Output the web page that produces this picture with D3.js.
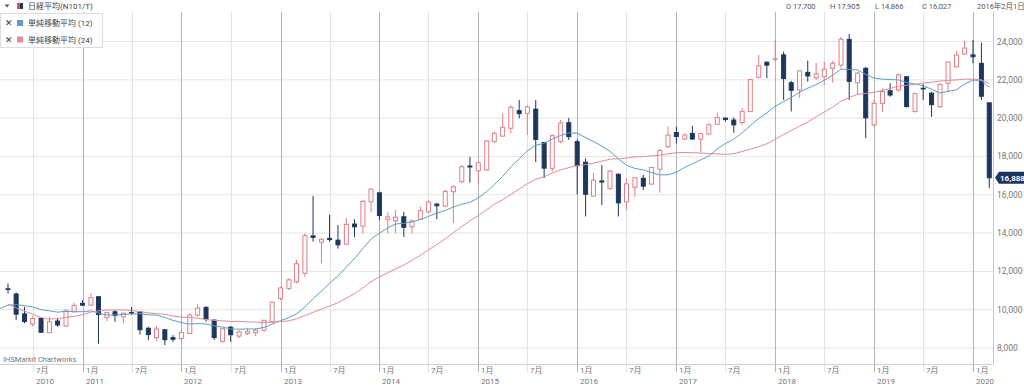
<!DOCTYPE html>
<html><head><meta charset="utf-8">
<script src="https://cdn.jsdelivr.net/npm/d3@7"></script>
<style>
body{margin:0;background:#fff;}
svg{display:block;font-family:Roboto,"Noto Sans CJK JP",sans-serif;}
</style>
</head><body>
<svg id="c" width="1024" height="386"></svg>
<script>
// ---------- DATA ----------
const months = [
 "2010-04","2010-05","2010-06","2010-07","2010-08","2010-09","2010-10","2010-11","2010-12",
 "2011-01","2011-02","2011-03","2011-04","2011-05","2011-06","2011-07","2011-08","2011-09","2011-10","2011-11","2011-12",
 "2012-01","2012-02","2012-03","2012-04","2012-05","2012-06","2012-07","2012-08","2012-09","2012-10","2012-11","2012-12",
 "2013-01","2013-02","2013-03","2013-04","2013-05","2013-06","2013-07","2013-08","2013-09","2013-10","2013-11","2013-12",
 "2014-01","2014-02","2014-03","2014-04","2014-05","2014-06","2014-07","2014-08","2014-09","2014-10","2014-11","2014-12",
 "2015-01","2015-02","2015-03","2015-04","2015-05","2015-06","2015-07","2015-08","2015-09","2015-10","2015-11","2015-12",
 "2016-01","2016-02","2016-03","2016-04","2016-05","2016-06","2016-07","2016-08","2016-09","2016-10","2016-11","2016-12",
 "2017-01","2017-02","2017-03","2017-04","2017-05","2017-06","2017-07","2017-08","2017-09","2017-10","2017-11","2017-12",
 "2018-01","2018-02","2018-03","2018-04","2018-05","2018-06","2018-07","2018-08","2018-09","2018-10","2018-11","2018-12",
 "2019-01","2019-02","2019-03","2019-04","2019-05","2019-06","2019-07","2019-08","2019-09","2019-10","2019-11","2019-12",
 "2020-01","2020-02","2020-03"];
const opens = [
 11090,10820,9780,9250,9545,8800,9405,9150,9890,
 10330,10240,10675,9600,9890,9630,9850,9890,9030,8550,8950,8540,
 8500,8760,9720,10120,9460,8350,9080,8620,8760,8800,8935,9370,
 10590,11110,11455,11900,13850,13520,13720,13630,13420,14470,14360,15630,
 16100,14720,14640,14850,14330,14720,15110,15510,15410,16160,16680,17500,
 17250,17290,18770,19060,19470,20390,20250,20470,18730,17380,18770,19760,
 18770,17700,15930,16720,16330,17070,15630,16390,16860,16560,17330,18510,
 19250,18910,19200,18910,19170,19680,20000,19900,19770,20340,22130,22920,
 23073,23300,21850,21470,22390,22110,22160,22600,22770,24110,21850,22600,
 19640,20770,21430,21470,22160,20340,21560,21300,20600,21820,22680,23350,
 23300,22860,20800];
const highs = [
 11370,10900,10150,9660,9600,9630,9560,10030,10360,
 10500,10880,10710,9890,9970,9840,10150,9890,9110,9150,8990,8670,
 8935,9810,10280,10180,9460,9025,9150,8935,9025,9025,9460,10410,
 11200,11640,12590,13980,15942,13711,14953,14420,14780,14720,15720,16330,
 16160,15080,15200,15110,14720,15380,15720,15580,16280,16510,17550,17980,
 17720,18860,19300,20250,20690,20950,20690,20946,18730,19150,19900,20012,
 18890,17905,17150,17550,17290,17120,16860,16910,17030,17460,18420,19560,
 19550,19200,19590,19200,19730,20280,20040,20040,20520,22030,23300,22950,
 24080,23470,21950,22500,23000,22880,22950,22990,24250,24390,22420,22680,
 20950,21560,21820,22340,22200,21330,21780,21380,21820,22950,23520,24040,
 24080,23940,20800];
const lows = [
 10850,9460,9290,9145,8796,8790,9110,9100,9860,
 10190,10200,8227,9400,9370,9290,9720,8700,8415,8340,8150,8320,
 8320,8730,9630,9380,8415,8270,8320,8500,8675,8620,8850,9290,
 10500,11030,11370,11720,13556,12415,13550,13188,13375,13780,13990,15080,
 14680,13995,13990,13800,13990,14680,15030,14720,15370,14529,16600,16630,
 16590,17240,18720,19030,19200,19990,19115,17714,16870,17200,18690,18860,
 16017,14866,15890,15460,16250,14864,15200,15900,16250,16510,16111,18420,
 18680,18860,18860,18224,19120,19640,19810,19240,19640,20340,22080,22080,
 22950,20950,20347,21060,21900,21990,21730,21850,22600,20950,21210,18950,
 19550,20340,21120,21380,20560,20290,20950,20070,20510,21380,22650,23300,
 22860,20950,16350];
const closes = [
 11057,9768,9382,9537,8824,9369,9202,9937,10228,
 10237,10624,9755,9849,9693,9816,9833,8955,8700,8988,8434,8455,
 8802,9723,10083,9520,8542,9006,8695,8839,8870,8928,9446,10395,
 11138,11559,12397,13860,13774,13677,13668,13388,14455,14327,15662,16291,
 14914,14841,14828,14304,14632,15162,15621,15425,16174,16413,17460,17451,
 17674,18798,19207,19520,20563,20236,20585,18890,17388,19083,19747,19034,
 17518,16027,16759,16666,17235,15576,16569,16887,16450,17425,18308,19114,
 19041,19119,18909,19197,19651,20033,19925,19646,20356,22012,22725,22765,
 23098,22068,21454,22468,22202,22305,22554,22865,24120,21920,22351,20015,
 20773,21385,21206,22259,20601,21276,21522,20704,21756,22927,23294,23657,
 23205,21143,16888];
// closes before the visible window (2008-05 .. 2010-03), needed by the moving averages
const priorMonthsStart = "2008-05";
const priorCloses = [14338,13481,13377,13073,11260,8577,8512,8860,
 7994,7568,8110,8828,9523,9958,10357,10493,10133,10035,9346,10546,
 10198,10126,11090];
const maPeriods = [12, 24];
const yTicks = [8000,10000,12000,14000,16000,18000,20000,22000,24000];
const header = {title:"日経平均(N101/T)", o:"O 17,700", h:"H 17,905", l:"L 14,866", c:"C 16,027", date:"2016年2月1日"};
const legendLabels = ["単純移動平均 (12)", "単純移動平均 (24)"];
const lastLabel = "16,888";
const credit = "IHSMarkit Chartworks";

// ---------- SETUP ----------
const NAVY = "#1c365e", RED = "#e07f86", MA_BLUE = "#5c9fc6", MA_PINK = "#e08c99";
const svg = d3.select("#c");
const P = {l:0, r:993, t:12, b:364};
const parse = d3.timeParse("%Y-%m");
const dates = months.map(parse);
const x = d3.scaleTime().domain([new Date(2011,0,1), new Date(2020,0,1)]).range([82.5, 973]);
const y = d3.scaleLinear().domain([8000,24000]).range([348,41.5]);

const data = dates.map((d,i)=>({d, o:opens[i], h:highs[i], l:lows[i], c:closes[i]}));

// clip
svg.append("defs").append("clipPath").attr("id","plot")
  .append("rect").attr("x",P.l).attr("y",P.t).attr("width",P.r-P.l).attr("height",P.b-P.t);

// horizontal grid
svg.append("g").selectAll("line").data(yTicks).join("line")
  .attr("x1",P.l).attr("x2",P.r).attr("y1",d=>y(d)).attr("y2",d=>y(d))
  .attr("stroke","#e6e6e6").attr("stroke-width",1);

// vertical grid + x ticks
const xTicks = d3.timeMonth.every(6).range(new Date(2010,6,1), new Date(2020,1,1));
const gx = svg.append("g");
gx.selectAll("line").data(xTicks).join("line")
  .attr("x1",d=>Math.round(x(d))+0.5).attr("x2",d=>Math.round(x(d))+0.5)
  .attr("y1",P.t).attr("y2",372)
  .attr("stroke",d=>d.getMonth()===0?"#b4b4b4":"#e2e2e2").attr("stroke-width",1);
gx.selectAll("text.m").data(xTicks).join("text").attr("class","m")
  .attr("x",d=>Math.round(x(d))+3).attr("y",373)
  .attr("font-size",8).attr("fill","#777")
  .text(d=>(d.getMonth()+1)+"月");
gx.selectAll("text.yr").data(xTicks.filter((d,i)=>d.getMonth()===0||i===0)).join("text").attr("class","yr")
  .attr("x",d=>Math.round(x(d))+3).attr("y",384)
  .attr("font-size",8).attr("fill","#777")
  .text(d=>d.getFullYear());

// axis lines
svg.append("line").attr("x1",P.l).attr("x2",P.r).attr("y1",P.b+0.5).attr("y2",P.b+0.5).attr("stroke","#cfcfcf");
svg.append("line").attr("x1",P.r+0.5).attr("x2",P.r+0.5).attr("y1",P.t).attr("y2",P.b).attr("stroke","#c8c8c8");

// y labels
svg.append("g").selectAll("text").data(yTicks).join("text")
  .attr("x",997).attr("y",d=>y(d)+3).attr("font-size",8.5).attr("fill","#777")
  .text(d3.format(","));

// candles
const gc = svg.append("g").attr("clip-path","url(#plot)");
const bw = 4;
const cg = gc.selectAll("g").data(data).join("g");
cg.append("line")
  .attr("x1",d=>x(d.d)).attr("x2",d=>x(d.d))
  .attr("y1",d=>y(d.h)).attr("y2",d=>y(d.l))
  .attr("stroke",d=>d.c>=d.o?RED:NAVY).attr("stroke-width",1);
cg.append("rect")
  .attr("x",d=>x(d.d)-bw/2).attr("width",bw)
  .attr("y",d=>y(Math.max(d.o,d.c)))
  .attr("height",d=>Math.max(0.5,Math.abs(y(d.o)-y(d.c))))
  .attr("fill",d=>d.c>=d.o?"#fff":NAVY)
  .attr("stroke",d=>d.c>=d.o?RED:NAVY).attr("stroke-width",1);

// moving averages
const allCloses = priorCloses.concat(closes);
const p0 = parse(priorMonthsStart);
const allDates = allCloses.map((c,i)=>d3.timeMonth.offset(p0,i));
function sma(n){
  const out=[];
  for(let j=n-1;j<allCloses.length;j++){
    if(allDates[j] < new Date(2010,2,1)) continue;
    out.push({d:allDates[j], v:d3.mean(allCloses.slice(j-n+1,j+1))});
  }
  return out;
}
const line = d3.line().x(d=>x(d.d)).y(d=>y(d.v));
const maColors = [MA_BLUE, MA_PINK];
maPeriods.forEach((n,k)=>{
  gc.append("path").datum(sma(n)).attr("d",line)
    .attr("fill","none").attr("stroke",maColors[k]).attr("stroke-width",1);
});

// last value tag
const ty = y(closes[closes.length-1]);
svg.append("path")
  .attr("d",`M995,${ty} L999,${ty-6} L1024,${ty-6} L1024,${ty+6} L999,${ty+6} Z`)
  .attr("fill",NAVY);
svg.append("text").attr("x",1000).attr("y",ty+3).attr("font-size",8).attr("font-weight","bold")
  .attr("fill","#fff").text(lastLabel);

// header
const hd = svg.append("g").attr("fill","#444");
hd.append("path").attr("d","M4.5,4.5 L9.5,4.5 L7,7.5 Z").attr("fill","#555");
hd.append("rect").attr("x",17).attr("y",3).attr("width",3).attr("height",6).attr("fill","#d9534f");
hd.append("rect").attr("x",20).attr("y",3).attr("width",3).attr("height",6).attr("fill",NAVY);
hd.append("text").attr("x",28).attr("y",9).attr("font-size",8).text(header.title);
const hx = [786,830,875,922,977];
[header.o,header.h,header.l,header.c,header.date].forEach((t,i)=>{
  hd.append("text").attr("x",hx[i]).attr("y",9).attr("font-size",7.5).attr("fill","#555").text(t);
});

// legend
const lg = svg.append("g");
lg.append("rect").attr("x",0.5).attr("y",13.5).attr("width",102).attr("height",34)
  .attr("fill","#fff").attr("stroke","#dcdcdc");
legendLabels.forEach((t,i)=>{
  const cy = 23 + i*16.5;
  lg.append("text").attr("x",5).attr("y",cy+3).attr("font-size",9).attr("fill","#333")
    .attr("font-family","DejaVu Sans").text("✕");
  lg.append("rect").attr("x",17).attr("y",cy-3).attr("width",6).attr("height",6).attr("fill",maColors[i]);
  lg.append("text").attr("x",28).attr("y",cy+3).attr("font-size",8).attr("fill","#444").text(t);
});

// credit
svg.append("text").attr("x",3).attr("y",362).attr("font-size",7.5).attr("fill","#777").text(credit);
</script>
</body></html>
